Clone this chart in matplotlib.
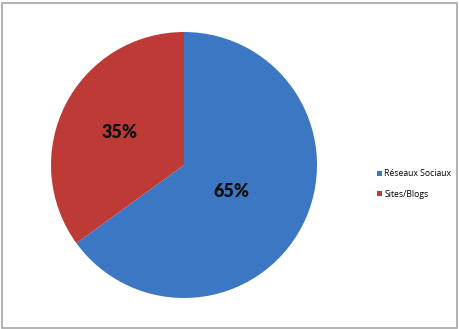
import matplotlib.pyplot as plt
from matplotlib.patches import Rectangle

labels = ['Réseaux Sociaux', 'Sites/Blogs']
values = [65, 35]
colors = ['#3b77c2', '#bd3a36']

W, H = 459, 329
fig = plt.figure(figsize=(W / 100, H / 100), dpi=100)
fig.patch.set_facecolor('white')

# gray frame around the chart area
fig.add_artist(Rectangle((1.5 / W, 1.5 / H), (W - 4) / W, (H - 4) / H,
                         transform=fig.transFigure, fill=False,
                         edgecolor='#a6a6a6', linewidth=1.2))

# pie area: center ~ (184,165), radius ~133 px
r = 133
ax = fig.add_axes([(184 - r) / W, (H - 165 - r) / H, 2 * r / W, 2 * r / H])
wedges, texts, autotexts = ax.pie(values, colors=colors, startangle=90,
                                  counterclock=False, autopct='%d%%',
                                  pctdistance=0.545, radius=1,
                                  textprops=dict(fontsize=13, fontweight='heavy',
                                                 color='#111111', family='Lato'))
autotexts[0].set_position((0.36, -0.20))
ax.set_xlim(-1, 1)
ax.set_ylim(-1, 1)
ax.set_aspect('equal')
ax.axis('off')

fig.legend(wedges, labels, loc='center left', bbox_to_anchor=(369 / W, 1 - 184 / H),
           frameon=False, handlelength=0.6, handleheight=0.6,
           handletextpad=0.3, labelspacing=1.3, prop=dict(family='Open Sans', size=6.2))

fig.savefig('out.png', dpi=100)
